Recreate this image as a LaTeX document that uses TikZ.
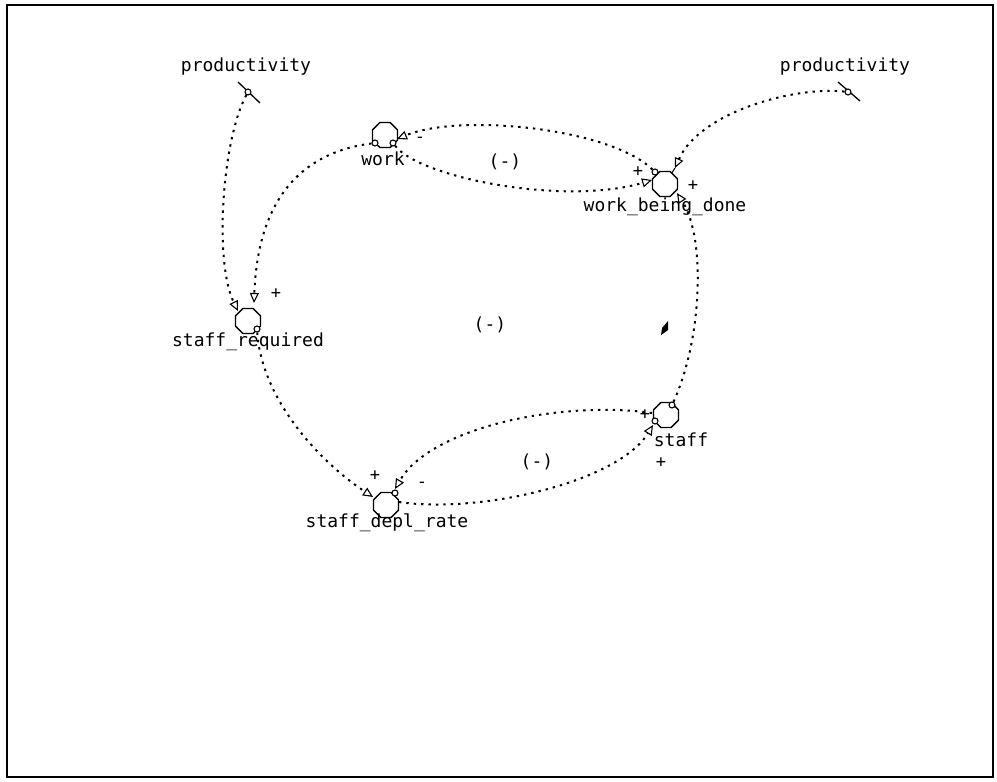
\documentclass[tikz,border=0pt]{standalone}
\usepackage{fontspec}
\setmonofont{DejaVu Sans Mono}
\usetikzlibrary{arrows.meta,shapes.geometric}

\begin{document}
\begin{tikzpicture}[x=1pt,y=-1pt,
  lbl/.style={font=\ttfamily\fontsize{18}{20}\selectfont, inner sep=0pt},
  sgn/.style={font=\ttfamily\fontsize{17}{18}\selectfont, inner sep=0pt},
  oct/.style={regular polygon, regular polygon sides=8, draw, line width=1.4pt,
              minimum size=27pt, inner sep=0pt, fill=white},
  link/.style={line width=2pt, dash pattern=on 2.4pt off 5pt,
               -{Triangle[open,length=10pt,width=9pt,line width=1.1pt]}},
  tailo/.style={circle, draw, line width=1.1pt, minimum size=6pt, inner sep=0pt, fill=white},
]
\useasboundingbox (0,0) rectangle (997,782);
\draw[line width=2pt] (7,5) rectangle (993,777);

% variables
\node[oct] (work)  at (385,135) {};
\node[lbl] (workl) at (383,159) {work};
\node[oct] (wbd)   at (665,184) {};
\node[lbl] (wbdl)  at (665,207) {work\_being\_done};
\node[oct] (sreq)  at (248,321) {};
\node[lbl] (sreql) at (248,342) {staff\_required};
\node[oct] (staff) at (666,415) {};
\node[lbl] (staffl) at (681,440) {staff};
\node[oct] (sdr)   at (386,505) {};
\node[lbl] (sdrl)  at (387,523) {staff\_depl\_rate};

% external inputs
\node[lbl] (prodLl) at (246,67) {productivity};
\node[lbl] (prodRl) at (845,67) {productivity};
\draw[line width=1.3pt] (238,82) -- (260,103);
\draw[line width=1.3pt] (838,82) -- (860,101);
\node[tailo] (pL) at (248,92) {};
\node[tailo] (pR) at (848,92) {};

% connector ends on the variables
\node[tailo] (workA)  at (375,143) {};
\node[tailo] (workB)  at (393,143) {};
\node[tailo] (wbdA)   at (655,172) {};
\node[tailo] (sreqA)  at (257,329) {};
\node[tailo] (staffA) at (672,405) {};
\node[tailo] (staffB) at (655,421) {};
\node[tailo] (sdrA)   at (395,493) {};
\coordinate (sdrB)   at (399,502);
\coordinate (staffL) at (652,413);

\coordinate (sreqT1) at (238,311);
\coordinate (sreqT2) at (254,303);
\coordinate (sdrT1)  at (373,497);
\coordinate (sdrT2)  at (395,489);
\coordinate (staffT) at (653,425);
\coordinate (wbdT1)  at (675,168);
\coordinate (wbdT2)  at (677,193);
\coordinate (wbdT3)  at (652,180);
\coordinate (workT)  at (397,139);

% causal links
\draw[link] (pL) .. controls (222,140) and (214,262) .. (sreqT1);
\draw[link] (workA) .. controls (305,152) and (258,195) .. (sreqT2);
\draw[link] (sreqA) .. controls (262,400) and (320,462) .. (sdrT1);
\draw[link] (sdrB) .. controls (480,514) and (618,482) .. (staffT);
\draw[link] (staffL) .. controls (560,400) and (430,428) .. (sdrT2);
\draw[link] (staffA) .. controls (702,340) and (706,238) .. (wbdT2);
\draw[link] (pR) .. controls (795,86) and (700,112) .. (wbdT1);
\draw[link] (wbdA) .. controls (610,128) and (460,113) .. (workT);
\draw[link] (workB) .. controls (420,178) and (565,206) .. (wbdT3);
\draw[line width=1.1pt] (wbdT1) -- (wbd);

% polarities
\node[sgn] (s1) at (420,140) {-};
\node[sgn] (s2) at (638,172) {+};
\node[sgn] (s3) at (693,186) {+};
\node[sgn] (s4) at (276,294) {+};
\node[sgn] (s5) at (645,415) {+};
\node[sgn] (s6) at (661,463) {+};
\node[sgn] (s7) at (375,476) {+};
\node[sgn] (s8) at (422,485) {-};

% loop labels
\node[lbl] (loop1) at (505,162) {(-)};
\node[lbl] (loop2) at (490,325) {(-)};
\node[lbl] (loop3) at (537,462) {(-)};

% pointer mark
\fill (661,335) -- (662,328) -- (668,321) -- (668,330) -- (664,333) -- cycle;
\end{tikzpicture}
\end{document}
